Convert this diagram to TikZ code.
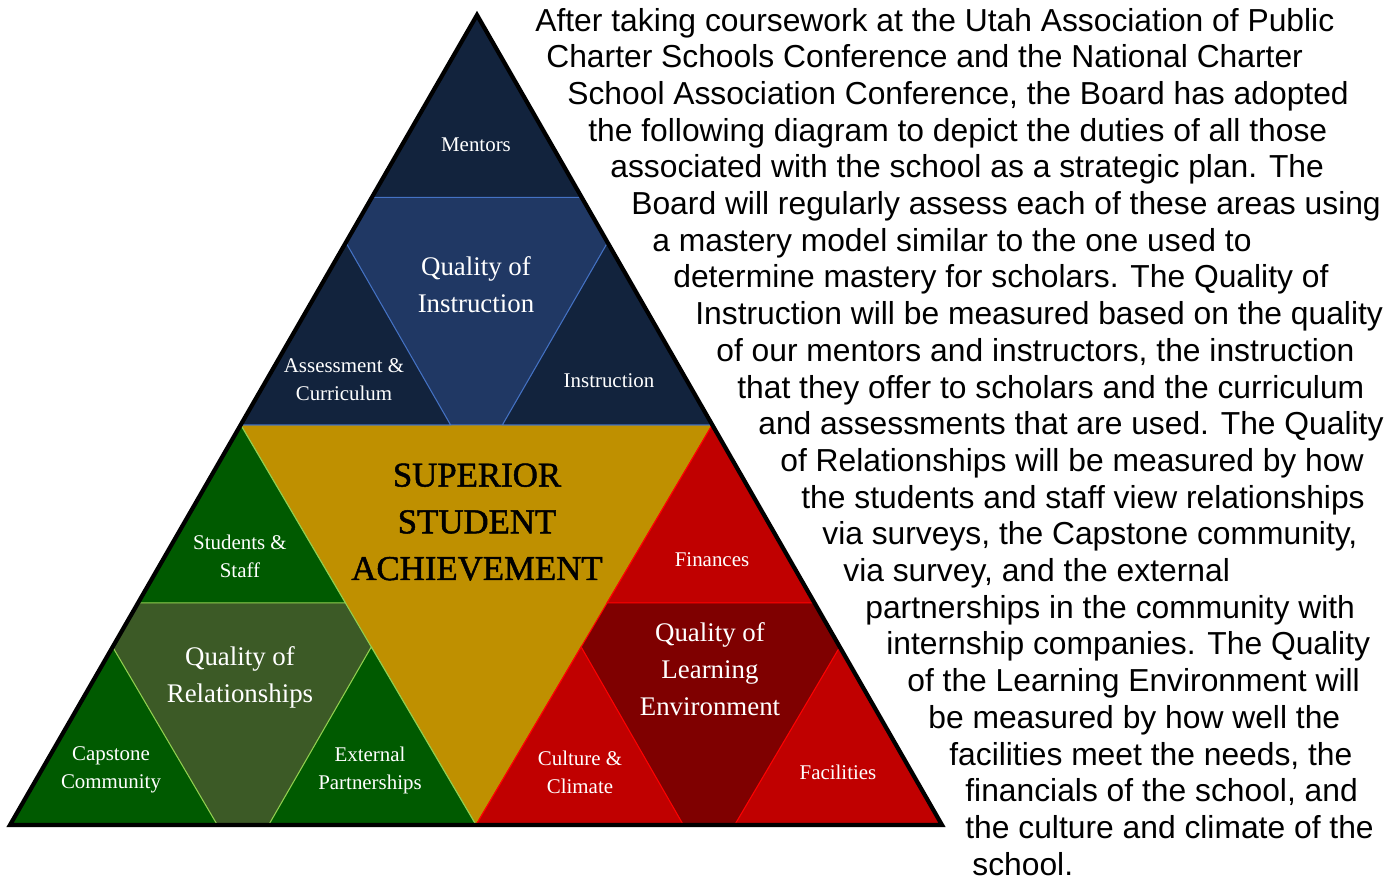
\documentclass[tikz,border=0pt]{standalone}
\usepackage{fontspec}
\setmainfont{Liberation Serif}
\newfontfamily\bodyfont{Liberation Sans}
\newfontfamily\goalfont[FakeBold=1.4]{Liberation Serif}
\usetikzlibrary{calc}

\definecolor{navy}{RGB}{18,35,61}
\definecolor{navymid}{RGB}{32,56,100}
\definecolor{navyline}{RGB}{68,114,196}
\definecolor{leaf}{RGB}{0,90,0}
\definecolor{leafmid}{RGB}{60,90,38}
\definecolor{leafline}{RGB}{146,208,80}
\definecolor{brick}{RGB}{192,0,0}
\definecolor{brickmid}{RGB}{127,0,0}
\definecolor{brickline}{RGB}{255,0,0}
\definecolor{gold}{RGB}{191,144,0}

\tikzset{
  small label/.style={text=white, align=center, inner sep=0pt,
                      font=\fontsize{11.9}{15.9}\selectfont},
  area label/.style={text=white, align=center, inner sep=0pt,
                     font=\fontsize{15.3}{21}\selectfont},
  goal label/.style={text=black, align=center, inner sep=0pt,
                     font=\goalfont\fontsize{19.8}{26.6}\selectfont},
  body/.style={anchor=base west, inner sep=0pt, text depth=0pt,
               font=\bodyfont\fontsize{18.1}{20}\selectfont},
}

% share of a side taken by each corner triangle
\newcommand\cornerpart{0.445}
% top, left, right corner; middle colour, corner colour, line colour
\newcommand\splittri[6]{%
  \filldraw[fill=#4, draw=#6, line width=0.6pt] (#1) -- (#2) -- (#3) -- cycle;
  \filldraw[fill=#5, draw=#6, line width=0.6pt]
    (#1) -- ($(#1)!\cornerpart!(#2)$) -- ($(#1)!\cornerpart!(#3)$) -- cycle;
  \filldraw[fill=#5, draw=#6, line width=0.6pt]
    (#2) -- ($(#2)!\cornerpart!(#1)$) -- ($(#2)!\cornerpart!(#3)$) -- cycle;
  \filldraw[fill=#5, draw=#6, line width=0.6pt]
    (#3) -- ($(#3)!\cornerpart!(#1)$) -- ($(#3)!\cornerpart!(#2)$) -- cycle;
}

\begin{document}
\begin{tikzpicture}[x=0.02cm, y=-0.02cm]
  \useasboundingbox (0,0) rectangle (1390,880);

  % corners and side points of the big triangle
  \coordinate (top) at (477,15);
  \coordinate (left) at (10,825);
  \coordinate (right) at (942,825);
  \coordinate (midL) at ($(top)!0.506!(left)$);
  \coordinate (midR) at ($(top)!0.506!(right)$);
  \coordinate (midB) at ($(left)!0.5!(right)$);

  \fill[gold] (midL) -- (midR) -- (midB) -- cycle;
  \splittri{top}{midL}{midR}{navymid}{navy}{navyline}
  \splittri{midL}{left}{midB}{leafmid}{leaf}{leafline}
  \splittri{midR}{midB}{right}{brickmid}{brick}{brickline}
  \draw[line width=2.4pt, line join=miter] (top) -- (left) -- (right) -- cycle;

  % labels
  \node[small label] (mentors) at (476,145) {Mentors};
  \node[area label] (instrQ) at (476,285) {Quality of\\Instruction};
  \node[small label] (assess) at (344,380) {Assessment \&\\Curriculum};
  \node[small label] (instr) at (609,381) {Instruction};
  \node[goal label] (goal) at (477,522) {SUPERIOR\\STUDENT\\ACHIEVEMENT};
  \node[small label] (staff) at (240,556) {Students \&\\Staff};
  \node[area label] (relQ) at (240,677) {Quality of\\Relationships};
  \node[small label] (capstone) at (111,770) {Capstone\\Community};
  \node[small label] (partners) at (370,770) {External\\Partnerships};
  \node[small label] (finance) at (712,560) {Finances};
  \node[area label] (envQ) at (710,669) {Quality of\\Learning\\Environment};
  \node[small label] (culture) at (580,772) {Culture \&\\Climate};
  \node[small label] (facility) at (838,772) {Facilities};

  % text beside the triangle
  \foreach \i/\x/\t in {
    1/535/{After taking coursework at the Utah Association of Public},
    2/546/{Charter Schools Conference and the National Charter},
    3/567/{School Association Conference, the Board has adopted},
    4/588/{the following diagram to depict the duties of all those},
    5/610/{associated with the school as a strategic plan. The},
    6/631/{Board will regularly assess each of these areas using},
    7/652/{a mastery model similar to the one used to},
    8/673/{determine mastery for scholars. The Quality of},
    9/695/{Instruction will be measured based on the quality},
    10/716/{of our mentors and instructors, the instruction},
    11/737/{that they offer to scholars and the curriculum},
    12/758/{and assessments that are used. The Quality},
    13/780/{of Relationships will be measured by how},
    14/801/{the students and staff view relationships},
    15/822/{via surveys, the Capstone community,},
    16/843/{via survey, and the external},
    17/865/{partnerships in the community with},
    18/886/{internship companies. The Quality},
    19/907/{of the Learning Environment will},
    20/928/{be measured by how well the},
    21/949/{facilities meet the needs, the},
    22/965/{financials of the school, and},
    23/965/{the culture and climate of the},
    24/972/{school.}}
    \node[body] (line\i) at (\x,{31+(\i-1)*36.7}) {\t};
\end{tikzpicture}
\end{document}
